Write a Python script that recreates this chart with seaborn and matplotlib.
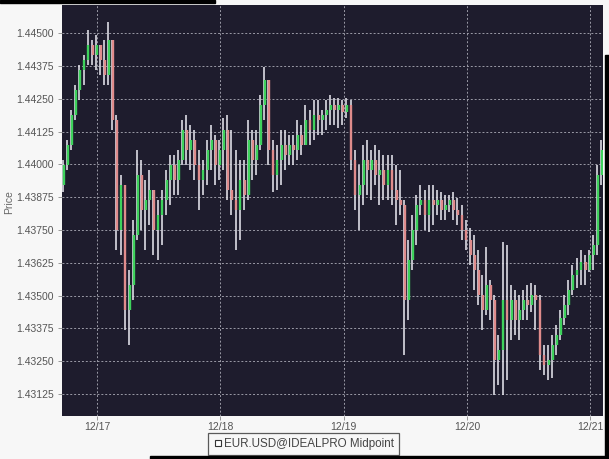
import numpy as np
import pandas as pd
import matplotlib
matplotlib.use("Agg")
import matplotlib.pyplot as plt
import matplotlib.dates as mdates
from matplotlib.lines import Line2D
from matplotlib.patches import Rectangle
import seaborn as sns

first_open = 1.43921
highs = [1.44016, 1.44092, 1.44207, 1.44302, 1.44378, 1.44416, 1.44511, 1.44473, 1.44492, 1.44454,
         1.44473, 1.44542, 1.44454, 1.44188, 1.43959, 1.43921, 1.43597, 1.43788, 1.44054, 1.44016,
         1.43940, 1.43978, 1.43883, 1.43864, 1.43902, 1.43978, 1.44035, 1.44035, 1.44054, 1.44169,
         1.44188, 1.44149, 1.44130, 1.44054, 1.44016, 1.44092, 1.44149, 1.44111, 1.44092, 1.44176,
         1.44188, 1.44130, 1.44054, 1.44016, 1.44016, 1.44169, 1.44130, 1.44130, 1.44264, 1.44370,
         1.44321, 1.44092, 1.44073, 1.44130, 1.44130, 1.44111, 1.44111, 1.44169, 1.44149, 1.44226,
         1.44207, 1.44245, 1.44245, 1.44207, 1.44245, 1.44264, 1.44252, 1.44252, 1.44245, 1.44252,
         1.44245, 1.44054, 1.43997, 1.44073, 1.44092, 1.44054, 1.44073, 1.44054, 1.44035, 1.44035,
         1.44035, 1.43997, 1.43978, 1.43864, 1.43711, 1.43807, 1.43883, 1.43921, 1.43902, 1.43921,
         1.43921, 1.43902, 1.43894, 1.43883, 1.43883, 1.43894, 1.43871, 1.43845, 1.43788, 1.43757,
         1.43730, 1.43673, 1.43578, 1.43685, 1.43559, 1.43502, 1.43349, 1.43704, 1.43692, 1.43540,
         1.43521, 1.43502, 1.43521, 1.43540, 1.43548, 1.43540, 1.43502, 1.43311, 1.43311, 1.43349,
         1.43387, 1.43445, 1.43502, 1.43559, 1.43616, 1.43643, 1.43673, 1.43654, 1.43673, 1.43730,
         1.43997, 1.44092]
lows = [1.43894, 1.43978, 1.44054, 1.44169, 1.44245, 1.44302, 1.44378, 1.44378, 1.44359, 1.44340,
        1.44302, 1.44302, 1.44130, 1.43673, 1.43654, 1.43368, 1.43311, 1.43483, 1.43711, 1.43749,
        1.43673, 1.43768, 1.43654, 1.43635, 1.43692, 1.43807, 1.43845, 1.43883, 1.43883, 1.43997,
        1.43997, 1.43978, 1.43940, 1.43826, 1.43883, 1.43921, 1.43978, 1.43921, 1.43940, 1.43978,
        1.43864, 1.43807, 1.43673, 1.43711, 1.43826, 1.43864, 1.43940, 1.43959, 1.44054, 1.44169,
        1.43997, 1.43894, 1.43902, 1.43921, 1.43978, 1.43997, 1.43997, 1.44016, 1.44035, 1.44073,
        1.44073, 1.44092, 1.44111, 1.44111, 1.44130, 1.44149, 1.44149, 1.44138, 1.44149, 1.44176,
        1.43978, 1.43826, 1.43749, 1.43845, 1.43883, 1.43864, 1.43921, 1.43845, 1.43864, 1.43864,
        1.43845, 1.43768, 1.43807, 1.43273, 1.43407, 1.43597, 1.43692, 1.43807, 1.43749, 1.43742,
        1.43768, 1.43807, 1.43788, 1.43788, 1.43818, 1.43788, 1.43768, 1.43711, 1.43673, 1.43616,
        1.43521, 1.43463, 1.43368, 1.43426, 1.43407, 1.43121, 1.43159, 1.43121, 1.43178, 1.43330,
        1.43349, 1.43330, 1.43407, 1.43407, 1.43437, 1.43368, 1.43216, 1.43197, 1.43178, 1.43186,
        1.43273, 1.43330, 1.43387, 1.43426, 1.43502, 1.43528, 1.43540, 1.43540, 1.43589, 1.43597,
        1.43654, 1.43921]
closes = [1.43997, 1.44073, 1.44188, 1.44283, 1.44359, 1.44397, 1.44454, 1.44416, 1.44454, 1.44397,
          1.44340, 1.44473, 1.44169, 1.43749, 1.43921, 1.43445, 1.43540, 1.43730, 1.43959, 1.43826,
          1.43864, 1.43902, 1.43749, 1.43807, 1.43864, 1.43940, 1.43997, 1.43940, 1.44016, 1.44130,
          1.44054, 1.44092, 1.43997, 1.43940, 1.43978, 1.44054, 1.44092, 1.43997, 1.44054, 1.44130,
          1.43902, 1.43864, 1.43826, 1.43940, 1.43883, 1.44092, 1.44016, 1.44073, 1.44226, 1.44321,
          1.44054, 1.43959, 1.44016, 1.44073, 1.44035, 1.44073, 1.44054, 1.44111, 1.44073, 1.44169,
          1.44130, 1.44188, 1.44169, 1.44188, 1.44207, 1.44226, 1.44207, 1.44226, 1.44199, 1.44226,
          1.44016, 1.43883, 1.43921, 1.44016, 1.43978, 1.44016, 1.43959, 1.43978, 1.43921, 1.43978,
          1.43902, 1.43864, 1.43845, 1.43483, 1.43635, 1.43749, 1.43845, 1.43864, 1.43807, 1.43864,
          1.43845, 1.43864, 1.43826, 1.43845, 1.43864, 1.43826, 1.43807, 1.43749, 1.43711, 1.43654,
          1.43597, 1.43502, 1.43445, 1.43540, 1.43483, 1.43254, 1.43292, 1.43483, 1.43407, 1.43483,
          1.43407, 1.43445, 1.43483, 1.43463, 1.43502, 1.43483, 1.43273, 1.43235, 1.43254, 1.43311,
          1.43349, 1.43414, 1.43463, 1.43521, 1.43578, 1.43597, 1.43628, 1.43597, 1.43654, 1.43692,
          1.43959, 1.44054]
opens = [first_open] + closes[:-1]

y_ticks = [1.43125, 1.43250, 1.43375, 1.43500, 1.43625, 1.43750, 1.43875,
           1.44000, 1.44125, 1.44250, 1.44375, 1.44500]
x_tick_labels = ["12/17", "12/18", "12/19", "12/20", "12/21"]
x_tick_dates = ["2009-12-17", "2009-12-18", "2009-12-19", "2009-12-20", "2009-12-21"]
series_label = "EUR.USD@IDEALPRO Midpoint"

times = pd.date_range("2009-12-16 17:22", periods=len(closes), freq="48min")
df = pd.DataFrame({"time": times, "open": opens, "high": highs, "low": lows, "close": closes})
df["hi"] = df[["high", "open", "close"]].max(axis=1)
df["lo"] = df[["low", "open", "close"]].min(axis=1)
df["dir"] = np.where(df["close"] >= df["open"], "up", "down")

sns.set_theme(style="dark")
plt.rcParams["font.family"] = ["Liberation Sans", "DejaVu Sans"]

fig = plt.figure(figsize=(6.09, 4.59), dpi=100)
fig.patch.set_facecolor("#f7f7f7")
ax = fig.add_axes([62 / 609, 1 - 416 / 459, (603 - 62) / 609, (416 - 5) / 459])
ax.set_facecolor("#1e1c2d")

tnum = mdates.date2num(df["time"])
off = 0.35 / 123.3 * 2.2
ax.vlines(tnum, df["lo"], df["hi"], color="#dcdce4", linewidth=1.2, zorder=3)
colors = {"up": "#3ed25c", "down": "#e08c8c"}
for d, sub in df.groupby("dir"):
    tn = mdates.date2num(sub["time"])
    ax.vlines(tn + off, sub["open"], sub["close"], color=colors[d], linewidth=1.7, zorder=4)

ax.set_ylim(1.43041, 1.44607)
ax.set_xlim(mdates.date2num(pd.Timestamp("2009-12-16 17:10")),
            mdates.date2num(pd.Timestamp("2009-12-21 02:31")))
ax.set_yticks(y_ticks)
ax.set_yticklabels([f"{v:.5f}" for v in y_ticks])
ax.set_xticks(mdates.date2num(pd.to_datetime(x_tick_dates)))
ax.set_xticklabels(x_tick_labels)
ax.grid(True, color="#9a9aa6", linestyle=(0, (2, 2)), linewidth=0.7, zorder=1)
ax.set_axisbelow(True)
ax.tick_params(axis="both", colors="#888888", labelsize=7.5, length=3, width=0.6,
               labelcolor="#555555", pad=3, bottom=True, left=True)
ax.tick_params(axis="x", pad=1.5)
for s in ax.spines.values():
    s.set_visible(False)
ax.set_ylabel("Price", color="#666666", fontsize=7.5)
ax.yaxis.set_label_coords(-0.088, 0.52)

handle = Line2D([], [], marker="s", markersize=5, markerfacecolor="white",
                markeredgecolor="#333333", markeredgewidth=0.8, linestyle="none")
leg = fig.legend([handle], [series_label], loc="center",
                 bbox_to_anchor=(303.5 / 609, 1 - 444 / 459), frameon=True, fancybox=False,
                 fontsize=8.4, handletextpad=0.15, borderpad=0.4, handlelength=0.8,
                 borderaxespad=0)
leg.get_frame().set_edgecolor("#333333")
leg.get_frame().set_linewidth(0.9)
leg.get_frame().set_facecolor("#f7f7f7")
for t in leg.get_texts():
    t.set_color("#444444")

# screenshot border strips
fig.patches.append(Rectangle((0, 1 - 3 / 459), 215 / 609, 3 / 459, transform=fig.transFigure,
                             color="black", zorder=10))
fig.patches.append(Rectangle((605 / 609, 0), 4 / 609, 1 - 55 / 459, transform=fig.transFigure,
                             color="black", zorder=10))
fig.patches.append(Rectangle((150 / 609, 0), 459 / 609, 3 / 459, transform=fig.transFigure,
                             color="black", zorder=10))

fig.savefig("out.png", dpi=100, facecolor=fig.get_facecolor())
